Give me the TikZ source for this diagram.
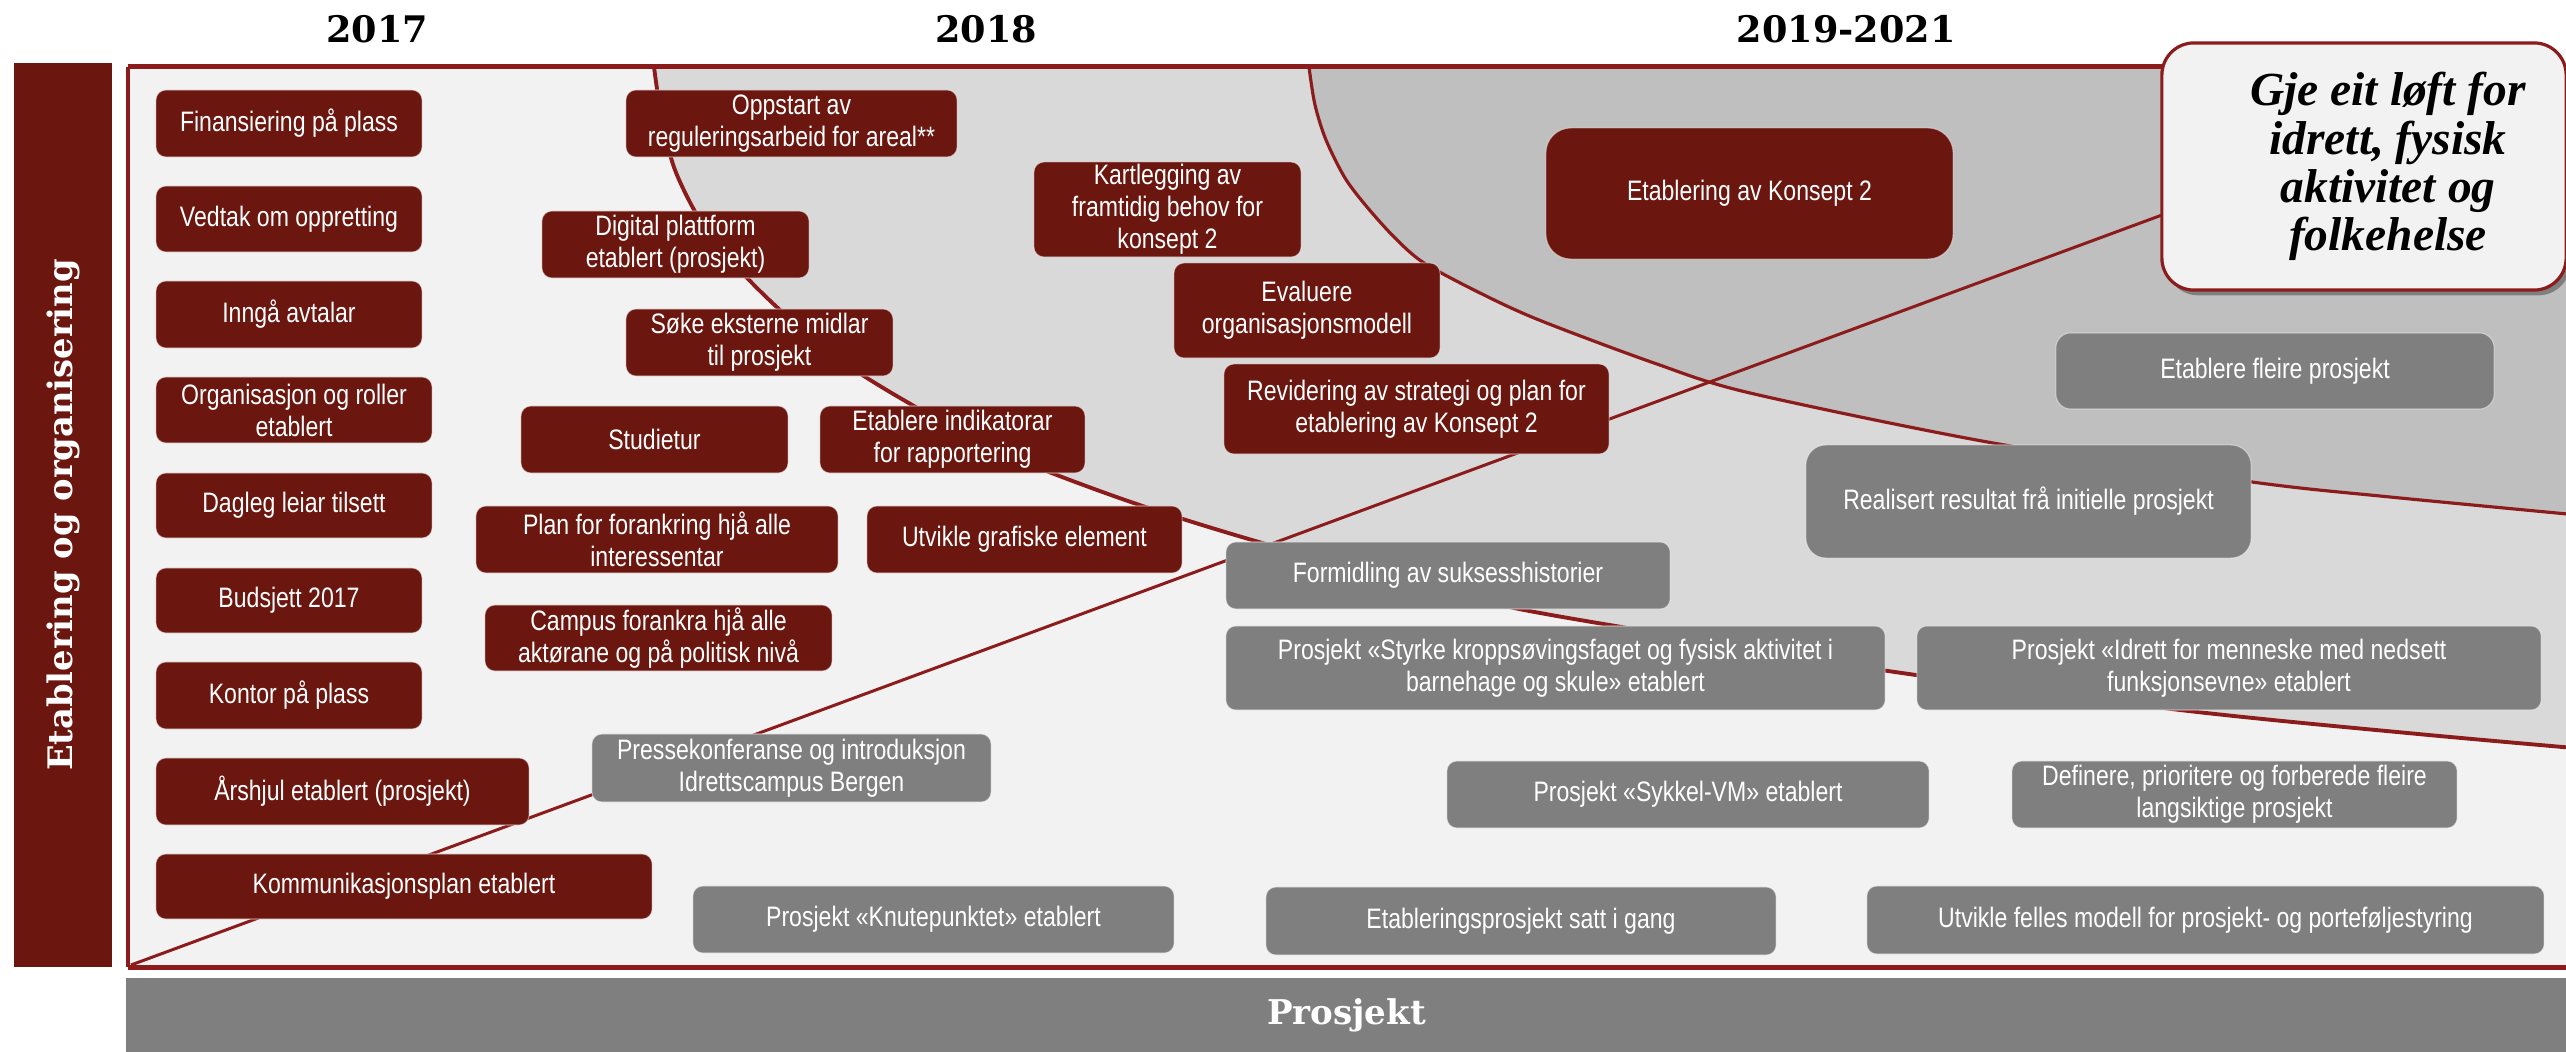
\documentclass[tikz,border=0pt]{standalone}
\usepackage{fontspec}
\usetikzlibrary{shadows}
\newfontfamily\boxfont[FakeStretch=0.82]{Liberation Sans}
\newfontfamily\headfont{DejaVu Serif}
\newfontfamily\goalfont{Liberation Serif}
\definecolor{boxred}{RGB}{107,23,16}
\definecolor{framered}{RGB}{140,27,27}
\definecolor{boxgray}{RGB}{127,127,127}
\definecolor{bglight}{RGB}{242,242,242}
\definecolor{bgmid}{RGB}{217,217,217}
\definecolor{bgdark}{RGB}{191,191,191}
\newcommand\tlbox[7]{\node[#2, minimum width={(#5-#3)*0.28453pt}, minimum height={(#6-#4)*0.28453pt}] (#1) at ({(#3+#5)/2},{(#4+#6)/2}) {#7};}
\tikzset{
  boxbase/.style={rectangle, rounded corners=0.1cm, inner sep=0pt, align=center, text=white,
    draw=white, draw opacity=0.45, line width=0.3pt,
    font=\boxfont\fontsize{8}{9.1}\selectfont},
  rbox/.style={boxbase, fill=boxred},
  gbox/.style={boxbase, fill=boxgray},
  yearlabel/.style={anchor=base, inner sep=0pt, font=\headfont\bfseries\fontsize{10.4}{12}\selectfont},
  redline/.style={draw=framered, line width=1.1pt},
  goalbox/.style={rectangle, rounded corners=0.32cm, fill=bglight, draw=framered, line width=0.9pt,
    minimum width={404*0.28453pt}, minimum height={247*0.28453pt}, inner sep=0pt,
    drop shadow={shadow xshift=1.2pt, shadow yshift=-1.5pt, opacity=0.55, fill=black!70}},
  goaltext/.style={align=center, inner sep=0pt,
    font=\goalfont\bfseries\itshape\fontsize{13.5}{13.7}\selectfont}
}
\begin{document}
\begin{tikzpicture}[x=0.01cm, y=-0.01cm]
\useasboundingbox (0,0) rectangle (2566,1052);
\fill[white] (0,0) rectangle (2566,1052);

% left vertical band
\node[fill=boxred, rotate=90, minimum width={904*0.28453pt}, minimum height={98*0.28453pt}, inner sep=0pt,
  text=white, font=\headfont\bfseries\fontsize{9.6}{11}\selectfont] (etab) at (63,515) {Etablering og organisering};

% frame background and regions
\begin{scope}
\clip (128,67) rectangle (2566,967);
\fill[bglight] (128,67) rectangle (2620,967);
\fill[bgmid] plot[smooth] coordinates {(654,67) (662,120) (675,170) (700,220) (735,265) (780,310) (840,360) (907,402) (1000,452) (1125,500) (1252,540) (1400,580) (1519,609) (1700,640) (1888,671) (2180,710) (2418,734) (2620,752)} -- (2620,40) -- (654,40) -- cycle;
\fill[bgdark] plot[smooth] coordinates {(1309,67) (1315,105) (1326,140) (1345,178) (1367,207) (1395,238) (1424,263) (1480,293) (1539,320) (1654,363) (1750,393) (1993,443) (2252,482) (2390,497) (2620,519)} -- (2620,40) -- (1309,40) -- cycle;
\draw[redline] plot[smooth] coordinates {(654,60) (654,67) (662,120) (675,170) (700,220) (735,265) (780,310) (840,360) (907,402) (1000,452) (1125,500) (1252,540) (1400,580) (1519,609) (1700,640) (1888,671) (2180,710) (2418,734) (2620,752)};
\draw[redline, line width=0.9pt] plot[smooth] coordinates {(1309,60) (1309,67) (1315,105) (1326,140) (1345,178) (1367,207) (1395,238) (1424,263) (1480,293) (1539,320) (1654,363) (1750,393) (1993,443) (2252,482) (2390,497) (2620,519)};
\end{scope}

% diagonal line
\coordinate (corner) at (131,965);
\coordinate (goalin) at (2162,215);
\draw[framered, line width=0.85pt] (corner) -- (goalin);

% frame border
\draw[framered, line width=1.42pt] (128,67) -- (2620,67) (128,967) -- (2620,967) (128,67) -- (128,967);

% bottom bar
\node[fill=boxgray, minimum width={2439*0.28453pt}, minimum height={74*0.28453pt}, inner sep=0pt,
  text=white, font=\headfont\bfseries\fontsize{9.7}{11}\selectfont] (prosjekt) at (1346.5,1015) {Prosjekt};

% year labels
\node[yearlabel] (y2017) at (377,43) {2017};
\node[yearlabel] (y2018) at (986,43) {2018};
\node[yearlabel] (y2019) at (1846,43) {2019-2021};

% left column
\tlbox{fin}{rbox}{156}{90}{422}{157}{Finansiering på plass}
\tlbox{vedtak}{rbox}{156}{186}{422}{252}{Vedtak om oppretting}
\tlbox{inngaa}{rbox}{156}{281}{422}{348}{Inngå avtalar}
\tlbox{org}{rbox}{156}{377}{432}{443}{Organisasjon og roller\\etablert}
\tlbox{dagleg}{rbox}{156}{473}{432}{538}{Dagleg leiar tilsett}
\tlbox{budsjett}{rbox}{156}{568}{422}{633}{Budsjett 2017}
\tlbox{kontor}{rbox}{156}{662}{422}{729}{Kontor på plass}
\tlbox{arshjul}{rbox}{156}{758}{529}{825}{Årshjul etablert (prosjekt)}
\tlbox{komm}{rbox}{156}{854}{652}{919}{Kommunikasjonsplan etablert}

% middle
\tlbox{oppstart}{rbox}{626}{90}{957}{157}{Oppstart av\\reguleringsarbeid for areal**}
\tlbox{digital}{rbox}{542}{211}{809}{278}{Digital plattform\\etablert (prosjekt)}
\tlbox{soke}{rbox}{626}{309}{893}{376}{Søke eksterne midlar\\til prosjekt}
\tlbox{studietur}{rbox}{521}{406}{788}{473}{Studietur}
\tlbox{indikator}{rbox}{820}{406}{1085}{473}{Etablere indikatorar\\for rapportering}
\tlbox{planfor}{rbox}{476}{506}{838}{573}{Plan for forankring hjå alle\\interessentar}
\tlbox{grafisk}{rbox}{867}{506}{1182}{573}{Utvikle grafiske element}
\tlbox{campus}{rbox}{485}{605}{832}{671}{Campus forankra hjå alle\\aktørane og på politisk nivå}
\tlbox{presse}{gbox}{592}{734}{991}{802}{Pressekonferanse og introduksjon\\Idrettscampus Bergen}
\tlbox{knute}{gbox}{693}{886}{1174}{953}{Prosjekt «Knutepunktet» etablert}
\tlbox{kartlegging}{rbox}{1034}{162}{1301}{257}{Kartlegging av\\framtidig behov for\\konsept 2}
\tlbox{evaluere}{rbox}{1174}{263}{1440}{358}{Evaluere\\organisasjonsmodell}
\tlbox{revidering}{rbox}{1224}{364}{1609}{454}{Revidering av strategi og plan for\\etablering av Konsept 2}
\tlbox{konsept}{rbox, rounded corners=0.25cm}{1546}{128}{1953}{259}{Etablering av Konsept 2}

% right
\tlbox{formidling}{gbox}{1226}{542}{1670}{609}{Formidling av suksesshistorier}
\tlbox{styrke}{gbox}{1226}{626}{1885}{710}{Prosjekt «Styrke kroppsøvingsfaget og fysisk aktivitet i\\barnehage og skule» etablert}
\tlbox{sykkel}{gbox}{1447}{761}{1929}{828}{Prosjekt «Sykkel-VM» etablert}
\tlbox{etabprosj}{gbox}{1266}{887}{1776}{955}{Etableringsprosjekt satt i gang}
\tlbox{realisert}{gbox, rounded corners=0.2cm}{1806}{445}{2251}{558}{Realisert resultat frå initielle prosjekt}
\tlbox{idrett}{gbox}{1917}{626}{2541}{710}{Prosjekt «Idrett for menneske med nedsett\\funksjonsevne» etablert}
\tlbox{definere}{gbox}{2012}{761}{2457}{828}{Definere, prioritere og forberede fleire\\langsiktige prosjekt}
\tlbox{utvikle}{gbox}{1867}{886}{2544}{954}{Utvikle felles modell for prosjekt- og porteføljestyring}
\tlbox{fleire}{gbox, rounded corners=0.15cm}{2056}{333}{2494}{409}{Etablere fleire prosjekt}

% goal box
\node[goalbox] (goal) at (2364,166.5) {};
\node[goaltext] (goaltxt) at (2388,166.5) {Gje eit løft for\\idrett, fysisk\\aktivitet og\\folkehelse};
\end{tikzpicture}
\end{document}
